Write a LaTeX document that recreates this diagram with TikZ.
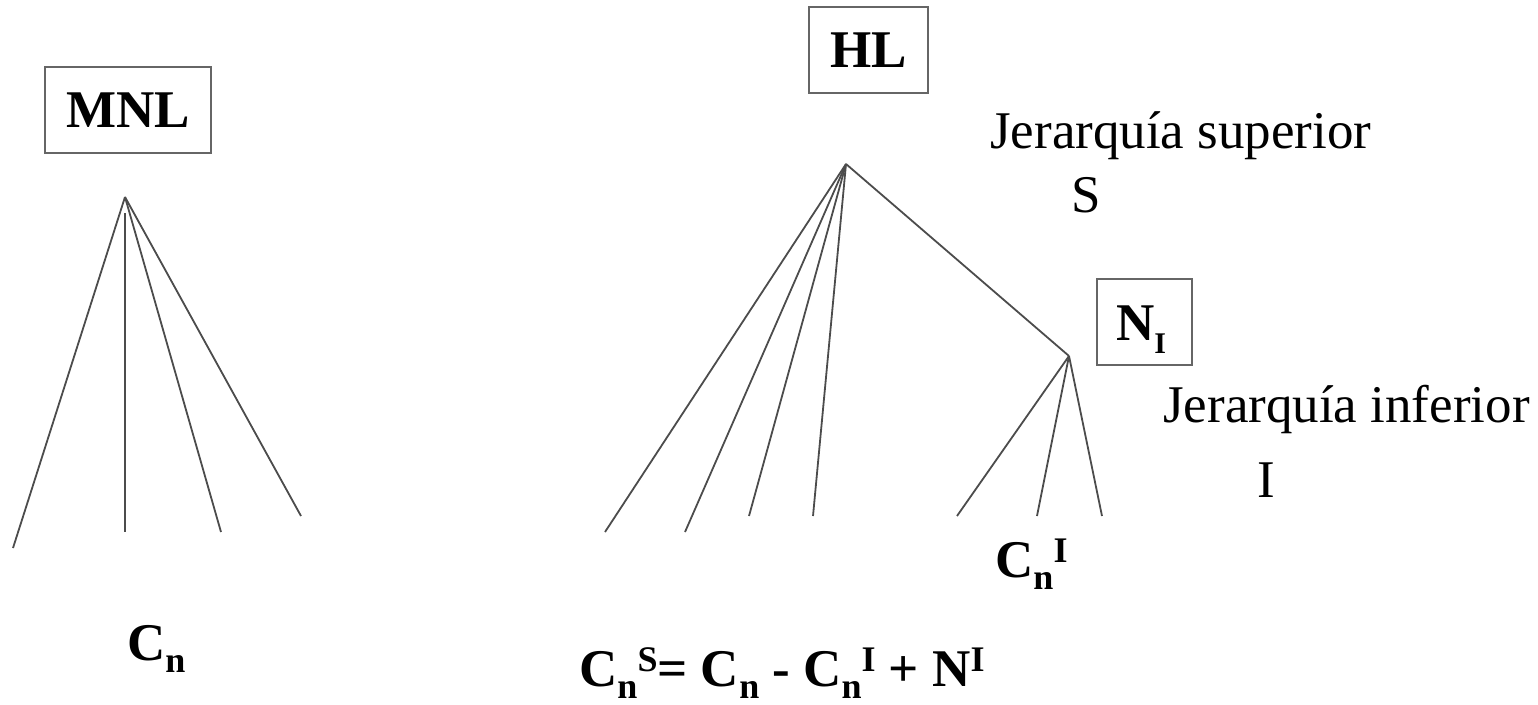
\documentclass[tikz,border=0pt]{standalone}
\usepackage{fontspec}
\setmainfont{Liberation Serif}
\newcommand{\lowr}[1]{\raisebox{-12pt}{\fontsize{36}{40}\selectfont #1}}
\newcommand{\uppr}[1]{\raisebox{15pt}{\fontsize{36}{40}\selectfont #1}}
\newcommand{\lowsmall}[1]{\raisebox{-13pt}{\fontsize{30}{34}\selectfont #1}}
\tikzset{
  edge/.style={draw=black!70, line width=1.8pt},
  boxnode/.style={draw=black!60, line width=2pt, inner sep=0pt, font=\fontsize{53}{60}\selectfont\bfseries},
  lbl/.style={anchor=base west, inner sep=0pt, font=\fontsize{53}{60}\selectfont},
  blbl/.style={anchor=base west, inner sep=0pt, font=\fontsize{53}{60}\selectfont\bfseries}
}
\begin{document}
\begin{tikzpicture}[x=1pt,y=-1pt]
\useasboundingbox (0,0) rectangle (1538,704);
% boxes
\node[boxnode, minimum width=166pt, minimum height=86pt] (mnl) at (128,110) {MNL};
\node[boxnode, minimum width=119pt, minimum height=86pt] (hl) at (868.5,50) {HL};
\node[boxnode, minimum width=95pt, minimum height=86pt] (ni) at (1144.5,322) {};
\node[blbl] (nitxt) at (1116,340) {N\lowsmall{I}};
% left tree
\coordinate (a1) at (125,197);
\coordinate (l1) at (13,548);
\coordinate (v1t) at (125,213);
\coordinate (v1b) at (125,532);
\coordinate (l3) at (221,532);
\coordinate (l4) at (301,516);
\draw[edge] (a1) -- (l1);
\draw[edge] (v1t) -- (v1b);
\draw[edge] (a1) -- (l3);
\draw[edge] (a1) -- (l4);
% right tree
\coordinate (a2) at (846,164);
\coordinate (r1) at (605,532);
\coordinate (r2) at (685,532);
\coordinate (r3) at (749,516);
\coordinate (r4) at (813,516);
\coordinate (a3) at (1069,356);
\coordinate (s1) at (957,516);
\coordinate (s2) at (1037,516);
\coordinate (s3) at (1102,516);
\draw[edge] (a2) -- (r1);
\draw[edge] (a2) -- (r2);
\draw[edge] (a2) -- (r3);
\draw[edge] (a2) -- (r4);
\draw[edge] (a2) -- (a3);
\draw[edge] (a3) -- (s1);
\draw[edge] (a3) -- (s2);
\draw[edge] (a3) -- (s3);
% labels
\node[lbl] (sup) at (990,148) {Jerarquía superior};
\node[lbl] (supS) at (1071,212) {S};
\node[lbl] (inf) at (1163,422) {Jerarquía inferior};
\node[lbl] (infI) at (1257,497) {I};
\node[blbl] (cn) at (127,660) {C\lowr{n}};
\node[blbl] (cni) at (995,577) {C\lowr{n}\uppr{I}};
\node[blbl] (form) at (579,686) {C\lowr{n}\uppr{S}= C\lowr{n} - C\lowr{n}\uppr{I} + N\uppr{I}};
\end{tikzpicture}
\end{document}
